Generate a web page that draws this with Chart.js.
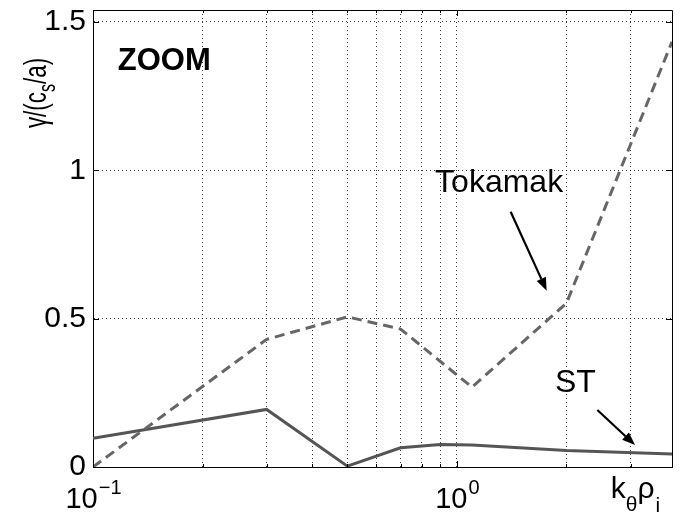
<!DOCTYPE html>
<html><head><meta charset="utf-8">
<script src="https://cdn.jsdelivr.net/npm/chart.js@4/dist/chart.umd.min.js"></script>
<style>html,body{margin:0;padding:0;background:#fff;}#wrap{width:681px;height:516px;position:relative;}</style>
</head><body><div id="wrap"><canvas id="c"></canvas></div>
<script>
// ---- data ----
const tokamakK = [0.1, 0.3, 0.5, 0.7, 1.1, 2.0, 3.9];
const tokamakGamma = [0.0, 0.43, 0.506, 0.465, 0.269, 0.552, 1.433];
const stK = [0.1, 0.3, 0.5, 0.7, 0.9, 1.1, 2.0, 3.9];
const stGamma = [0.097, 0.194, 0.003, 0.065, 0.076, 0.074, 0.056, 0.044];
const xGridTicks = [0.1, 0.2, 0.3, 0.4, 0.5, 0.6, 0.7, 0.8, 0.9, 1, 2, 3];
const xMajorTicks = [0.1, 1];
const xTickLabels = [{v: 0.1, base: '10', exp: '\u22121'}, {v: 1, base: '10', exp: '0'}];
const yTicks = [0, 0.5, 1, 1.5];
const yTickLabels = ['0', '0.5', '1', '1.5'];
const xRange = [0.1, 3.9];
const yRange = [0, 1.54];
// annotations (data coordinates)
const notes = [
  {text: 'ZOOM', x: 0.117, y: 1.338, bold: true},
  {text: 'Tokamak', x: 0.871, y: 0.926, bold: false},
  {text: 'ST', x: 1.86, y: 0.254, bold: false}
];
const arrows = [
  {x1: 1.405, y1: 0.860, x2: 1.765, y2: 0.594},
  {x1: 2.432, y1: 0.192, x2: 3.087, y2: 0.074}
];

const FONT = "'Liberation Sans', Arial, Helvetica, sans-serif";
const pts = (xs, ys) => xs.map((x, i) => ({x: x, y: ys[i]}));

function drawArrow(ctx, x1, y1, x2, y2) {
  const a = Math.atan2(y2 - y1, x2 - x1), L = 13, W = 5;
  const bx = x2 - L * Math.cos(a), by = y2 - L * Math.sin(a);
  ctx.lineWidth = 2.2;
  ctx.beginPath(); ctx.moveTo(x1, y1); ctx.lineTo(bx, by); ctx.stroke();
  ctx.beginPath(); ctx.moveTo(x2, y2);
  ctx.lineTo(bx + W * Math.sin(a), by - W * Math.cos(a));
  ctx.lineTo(bx - W * Math.sin(a), by + W * Math.cos(a));
  ctx.closePath(); ctx.fill();
}

const decor = {
  id: 'decor',
  afterDraw(chart) {
    const ctx = chart.ctx, ca = chart.chartArea;
    const xs = chart.scales.x, ys = chart.scales.y;
    ctx.save();
    ctx.strokeStyle = '#000'; ctx.fillStyle = '#000';
    // box top/right
    ctx.lineWidth = 1;
    ctx.beginPath();
    ctx.moveTo(ca.left, ca.top + 0.5); ctx.lineTo(ca.right + 0.5, ca.top + 0.5); ctx.lineTo(ca.right + 0.5, ca.bottom);
    ctx.stroke();
    // inside ticks
    ctx.beginPath();
    xGridTicks.forEach(v => {
      const p = Math.round(xs.getPixelForValue(v)) + 0.5;
      const len = xMajorTicks.includes(v) ? 6 : 3;
      ctx.moveTo(p, ca.bottom); ctx.lineTo(p, ca.bottom - len);
      ctx.moveTo(p, ca.top); ctx.lineTo(p, ca.top + len);
    });
    yTicks.forEach(v => {
      const p = Math.round(ys.getPixelForValue(v)) + 0.5;
      ctx.moveTo(ca.left, p); ctx.lineTo(ca.left + 6, p);
      ctx.moveTo(ca.right, p); ctx.lineTo(ca.right - 6, p);
    });
    ctx.stroke();
    // x tick labels with superscripts
    xTickLabels.forEach(t => {
      const p = xs.getPixelForValue(t.v);
      ctx.font = '29px ' + FONT;
      const wb = ctx.measureText(t.base).width;
      ctx.font = '20px ' + FONT;
      const we = ctx.measureText(t.exp).width;
      const x0 = p - (wb + we) / 2;
      ctx.textAlign = 'left'; ctx.textBaseline = 'alphabetic';
      ctx.font = '29px ' + FONT;
      ctx.fillText(t.base, x0, ca.bottom + 41);
      ctx.font = '20px ' + FONT;
      ctx.fillText(t.exp, x0 + wb + 1, ca.bottom + 27);
    });
    // x title k_theta rho_i
    let xx = xs.getPixelForValue(2.647);
    const by = ca.bottom + 31;
    ctx.font = '30px ' + FONT; ctx.fillText('k', xx, by); xx += ctx.measureText('k').width;
    ctx.font = '21px ' + FONT; ctx.fillText('\u03b8', xx, by + 13); xx += ctx.measureText('\u03b8').width;
    ctx.font = '30px ' + FONT; ctx.fillText('\u03c1', xx, by); xx += ctx.measureText('\u03c1').width + 1;
    ctx.font = '21px ' + FONT; ctx.fillText('i', xx, by + 14);
    // y title gamma/(c_s/a), rotated
    ctx.save();
    ctx.translate(ca.left - 47, ys.getPixelForValue(1.142));
    ctx.rotate(-Math.PI / 2);
    ctx.scale(0.7, 1);
    let tx = 0;
    ctx.font = '32px ' + FONT; ctx.fillText('\u03b3/(c', tx, 0); tx += ctx.measureText('\u03b3/(c').width;
    ctx.font = '23px ' + FONT; ctx.fillText('s', tx, 9); tx += ctx.measureText('s').width;
    ctx.font = '32px ' + FONT; ctx.fillText('/a)', tx, 0);
    ctx.restore();
    // annotations
    notes.forEach(n => {
      ctx.font = (n.bold ? 'bold 31px ' : '32px ') + FONT;
      ctx.fillText(n.text, xs.getPixelForValue(n.x), ys.getPixelForValue(n.y));
    });
    arrows.forEach(a => drawArrow(ctx, xs.getPixelForValue(a.x1), ys.getPixelForValue(a.y1),
      xs.getPixelForValue(a.x2), ys.getPixelForValue(a.y2)));
    ctx.restore();
  }
};

new Chart(document.getElementById('c'), {
  type: 'line',
  data: {
    datasets: [
      {label: 'Tokamak', data: pts(tokamakK, tokamakGamma), borderColor: '#666666', borderWidth: 3,
       borderDash: [10, 6], pointRadius: 0, tension: 0, fill: false},
      {label: 'ST', data: pts(stK, stGamma), borderColor: '#555555', borderWidth: 3,
       pointRadius: 0, tension: 0, fill: false}
    ]
  },
  options: {
    responsive: true, maintainAspectRatio: false, animation: false, devicePixelRatio: 1,
    layout: {padding: {left: 0, top: 10, right: 9, bottom: 0}},
    plugins: {legend: {display: false}, tooltip: {enabled: false}},
    scales: {
      x: {
        type: 'logarithmic', min: xRange[0], max: xRange[1],
        afterBuildTicks: s => { s.ticks = xGridTicks.map(v => ({value: v})); },
        afterFit: s => { s.height = 49; s.paddingLeft = 0; s.paddingRight = 0; },
        ticks: {display: false},
        grid: {color: 'rgba(0,0,0,0.75)', lineWidth: 1, drawTicks: false},
        border: {display: true, color: '#000', width: 1, dash: [1, 3]}
      },
      y: {
        type: 'linear', min: yRange[0], max: yRange[1],
        afterBuildTicks: s => { s.ticks = yTicks.map(v => ({value: v})); },
        afterFit: s => { s.width = 93; s.paddingTop = 0; s.paddingBottom = 0; },
        ticks: {padding: 7, color: '#000', font: {family: FONT, size: 30},
                callback: (v) => yTickLabels[yTicks.indexOf(v)] ?? ''},
        grid: {color: 'rgba(0,0,0,0.75)', lineWidth: 1, drawTicks: false},
        border: {display: true, color: '#000', width: 1, dash: [1, 3]}
      }
    }
  },
  plugins: [decor]
});
</script>
</body></html>
